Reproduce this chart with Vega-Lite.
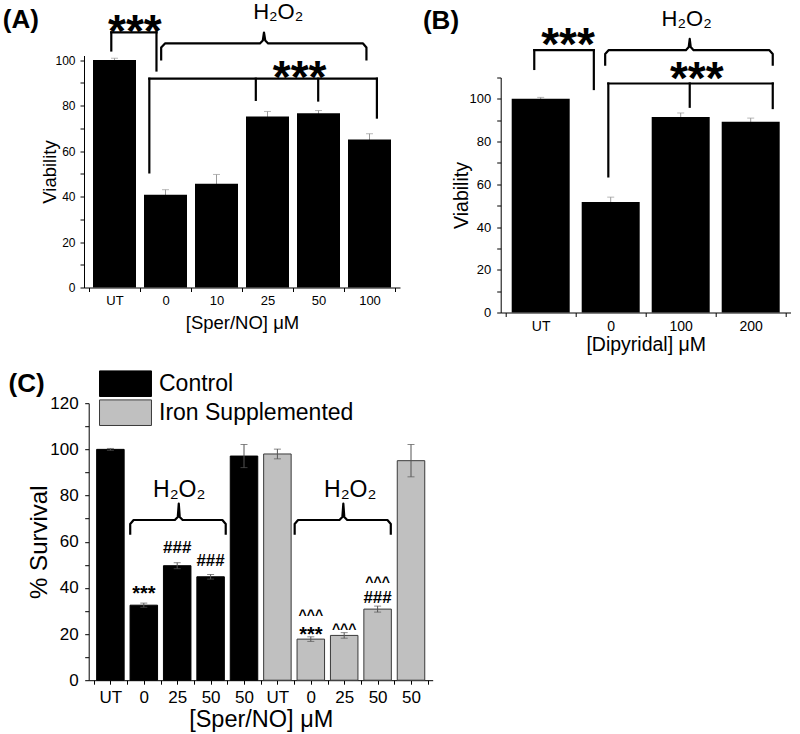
{
  "$schema": "https://vega.github.io/schema/vega-lite/v6.json",
  "background": "white",
  "padding": {"left": 2, "top": 0.5, "right": 0, "bottom": 0},
  "columns": 2,
  "bounds": "flush",
  "align": {"row": "each", "column": "each"},
  "spacing": {"row": 90.7, "column": 67.7},
  "resolve": {
    "scale": {"fill": "independent", "stroke": "independent", "size": "independent"},
    "legend": {"fill": "independent", "stroke": "independent", "size": "independent"}
  },
  "datasets": {
    "A_bars": [
      {"cond": "UT", "pos": 0.5, "viability": 100.0, "err": 0.8},
      {"cond": "0", "pos": 1.5, "viability": 40.8, "err": 2.2},
      {"cond": "10", "pos": 2.5, "viability": 45.6, "err": 4.1},
      {"cond": "25", "pos": 3.5, "viability": 75.2, "err": 2.2},
      {"cond": "50", "pos": 4.5, "viability": 76.6, "err": 1.2},
      {"cond": "100", "pos": 5.5, "viability": 65.1, "err": 2.5}
    ],
    "A_brackets": [
      {"x": 0.437, "x2": 1.323, "y": 112.2, "y2": 112.2},
      {"x": 0.437, "x2": 0.437, "y": 112.2, "y2": 104.2},
      {"x": 1.323, "x2": 1.323, "y": 112.2, "y2": 95.4},
      {"x": 1.183, "x2": 5.645, "y": 91.8, "y2": 91.8},
      {"x": 1.183, "x2": 1.183, "y": 91.8, "y2": 50.6},
      {"x": 3.271, "x2": 3.271, "y": 91.8, "y2": 82.5},
      {"x": 4.494, "x2": 4.494, "y": 91.8, "y2": 82.2},
      {"x": 5.645, "x2": 5.645, "y": 91.8, "y2": 74.7}
    ],
    "A_brace": [
      {"brace": 1, "ord": 1, "x": 1.415, "y": 99.8},
      {"brace": 1, "ord": 2, "x": 1.415, "y": 105.5},
      {"brace": 1, "ord": 3, "x": 1.49, "y": 107.3},
      {"brace": 1, "ord": 4, "x": 3.351, "y": 107.3},
      {"brace": 1, "ord": 5, "x": 3.408, "y": 108.6},
      {"brace": 1, "ord": 6, "x": 3.431, "y": 112.1},
      {"brace": 1, "ord": 7, "x": 3.456, "y": 108.6},
      {"brace": 1, "ord": 8, "x": 3.513, "y": 107.3},
      {"brace": 1, "ord": 9, "x": 5.373, "y": 107.3},
      {"brace": 1, "ord": 10, "x": 5.44, "y": 105.5},
      {"brace": 1, "ord": 11, "x": 5.44, "y": 99.8}
    ],
    "A_notes": [
      {"role": "panel", "text": "(A)", "x": -1.69, "y": 113.9},
      {"role": "sig", "text": "***", "x": 0.9, "y": 105.9},
      {"role": "sig", "text": "***", "x": 4.13, "y": 85.3},
      {"role": "chem", "text": "H₂O₂", "x": 3.71, "y": 118.1}
    ],
    "B_bars": [
      {"cond": "UT", "pos": 0.5, "viability": 100.0, "err": 0.7},
      {"cond": "0", "pos": 1.5, "viability": 51.7, "err": 2.3},
      {"cond": "100", "pos": 2.5, "viability": 91.5, "err": 1.9},
      {"cond": "200", "pos": 3.5, "viability": 89.3, "err": 1.7}
    ],
    "B_brackets": [
      {"x": 0.408, "x2": 1.259, "y": 122.8, "y2": 122.8},
      {"x": 0.408, "x2": 0.408, "y": 122.8, "y2": 114.0},
      {"x": 1.259, "x2": 1.259, "y": 122.8, "y2": 104.6},
      {"x": 1.466, "x2": 3.815, "y": 107.2, "y2": 107.2},
      {"x": 1.466, "x2": 1.466, "y": 107.2, "y2": 63.7},
      {"x": 2.629, "x2": 2.629, "y": 107.2, "y2": 96.3},
      {"x": 3.815, "x2": 3.815, "y": 107.2, "y2": 95.7}
    ],
    "B_brace": [
      {"brace": 1, "ord": 1, "x": 1.421, "y": 115.5},
      {"brace": 1, "ord": 2, "x": 1.421, "y": 121.0},
      {"brace": 1, "ord": 3, "x": 1.469, "y": 122.8},
      {"brace": 1, "ord": 4, "x": 2.574, "y": 122.8},
      {"brace": 1, "ord": 5, "x": 2.615, "y": 124.3},
      {"brace": 1, "ord": 6, "x": 2.629, "y": 128.1},
      {"brace": 1, "ord": 7, "x": 2.643, "y": 124.3},
      {"brace": 1, "ord": 8, "x": 2.684, "y": 122.8},
      {"brace": 1, "ord": 9, "x": 3.767, "y": 122.8},
      {"brace": 1, "ord": 10, "x": 3.815, "y": 121.0},
      {"brace": 1, "ord": 11, "x": 3.815, "y": 115.5}
    ],
    "B_notes": [
      {"role": "panel", "text": "(B)", "x": -1.182, "y": 132.7},
      {"role": "sig", "text": "***", "x": 0.89, "y": 118.0},
      {"role": "sig", "text": "***", "x": 2.73, "y": 102.1},
      {"role": "chem", "text": "H₂O₂", "x": 2.585, "y": 134.2}
    ],
    "C_bars": [
      {"group": "Control", "cond": "UT", "h2o2": "no", "pos": 0.5, "survival": 100.0, "err": 0.4},
      {"group": "Control", "cond": "0", "h2o2": "yes", "pos": 1.5, "survival": 32.5, "err": 0.9},
      {"group": "Control", "cond": "25", "h2o2": "yes", "pos": 2.5, "survival": 49.6, "err": 1.3},
      {"group": "Control", "cond": "50", "h2o2": "yes", "pos": 3.5, "survival": 44.8, "err": 1.0},
      {"group": "Control", "cond": "50", "h2o2": "no", "pos": 4.5, "survival": 97.1, "err": 5.0},
      {"group": "Iron Supplemented", "cond": "UT", "h2o2": "no", "pos": 5.5, "survival": 98.0, "err": 2.1},
      {"group": "Iron Supplemented", "cond": "0", "h2o2": "yes", "pos": 6.5, "survival": 17.8, "err": 1.0},
      {"group": "Iron Supplemented", "cond": "25", "h2o2": "yes", "pos": 7.5, "survival": 19.4, "err": 1.2},
      {"group": "Iron Supplemented", "cond": "50", "h2o2": "yes", "pos": 8.5, "survival": 30.8, "err": 1.3},
      {"group": "Iron Supplemented", "cond": "50", "h2o2": "no", "pos": 9.5, "survival": 95.1, "err": 7.0}
    ],
    "C_brace": [
      {"brace": 1, "ord": 1, "x": 1.093, "y": 63.0},
      {"brace": 1, "ord": 2, "x": 1.093, "y": 67.7},
      {"brace": 1, "ord": 3, "x": 1.195, "y": 69.4},
      {"brace": 1, "ord": 4, "x": 2.43, "y": 69.4},
      {"brace": 1, "ord": 5, "x": 2.517, "y": 70.7},
      {"brace": 1, "ord": 6, "x": 2.547, "y": 76.5},
      {"brace": 1, "ord": 7, "x": 2.576, "y": 70.7},
      {"brace": 1, "ord": 8, "x": 2.663, "y": 69.4},
      {"brace": 1, "ord": 9, "x": 3.852, "y": 69.4},
      {"brace": 1, "ord": 10, "x": 3.953, "y": 67.7},
      {"brace": 1, "ord": 11, "x": 3.953, "y": 63.0},
      {"brace": 2, "ord": 1, "x": 6.017, "y": 63.0},
      {"brace": 2, "ord": 2, "x": 6.017, "y": 67.7},
      {"brace": 2, "ord": 3, "x": 6.119, "y": 69.4},
      {"brace": 2, "ord": 4, "x": 7.358, "y": 69.4},
      {"brace": 2, "ord": 5, "x": 7.445, "y": 70.7},
      {"brace": 2, "ord": 6, "x": 7.474, "y": 76.5},
      {"brace": 2, "ord": 7, "x": 7.503, "y": 70.7},
      {"brace": 2, "ord": 8, "x": 7.59, "y": 69.4},
      {"brace": 2, "ord": 9, "x": 8.794, "y": 69.4},
      {"brace": 2, "ord": 10, "x": 8.895, "y": 67.7},
      {"brace": 2, "ord": 11, "x": 8.895, "y": 63.0}
    ],
    "C_notes": [
      {"role": "panel", "text": "(C)", "x": -2.549, "y": 124.8},
      {"role": "chem", "text": "H₂O₂", "x": 2.56, "y": 79.5},
      {"role": "chem", "text": "H₂O₂", "x": 7.68, "y": 79.5},
      {"role": "sig", "text": "***", "x": 1.5, "y": 34.9},
      {"role": "sig", "text": "###", "x": 2.5, "y": 54.9},
      {"role": "sig", "text": "###", "x": 3.5, "y": 49.6},
      {"role": "sig", "text": "^^^", "x": 6.5, "y": 25.9},
      {"role": "sig", "text": "***", "x": 6.5, "y": 16.8},
      {"role": "sig", "text": "^^^", "x": 7.5, "y": 20.2},
      {"role": "sig", "text": "^^^", "x": 8.5, "y": 40.5},
      {"role": "sig", "text": "###", "x": 8.5, "y": 33.3}
    ]
  },
  "concat": [
    {
      "width": 316,
      "height": 232,
      "layer": [
        {
          "data": {"name": "A_bars"},
          "mark": {"type": "errorbar", "thickness": 1, "ticks": {"size": 7, "color": "#9a9a9a"}, "rule": {"color": "#9a9a9a"}},
          "encoding": {
            "x": {"field": "pos", "type": "quantitative",
              "scale": {"domain": [0, 6], "nice": false, "zero": false},
              "axis": {"title": "[Sper/NO] μM", "values": [0, 0.5, 1, 1.5, 2, 2.5, 3, 3.5, 4, 4.5, 5, 5.5, 6], "tickCount": 100,
                "labelExpr": "datum.value == 0.5 ? 'UT' : datum.value == 1.5 ? '0' : datum.value == 2.5 ? '10' : datum.value == 3.5 ? '25' : datum.value == 4.5 ? '50' : datum.value == 5.5 ? '100' : ''",
                "tickOpacity": {"condition": {"test": "datum.value % 1 == 0", "value": 1}, "value": 0},
                "labelFontSize": 13, "labelPadding": 3, "titleFontSize": 18.5, "titlePadding": 6}},
            "y": {"field": "viability", "type": "quantitative", "title": "Viability",
              "scale": {"domain": [0, 102], "nice": false, "zero": false},
              "axis": {"title": "Viability", "values": [0, 10, 20, 30, 40, 50, 60, 70, 80, 90, 100], "tickCount": 100,
                "labelExpr": "datum.value % 20 == 0 ? datum.label : ''",
                "labelFontSize": 12, "labelPadding": 5, "titleFontSize": 18.5, "titlePadding": -5}},
            "yError": {"field": "err"}
          }
        },
        {
          "data": {"name": "A_bars"},
          "mark": {"type": "bar", "width": 43, "color": "#000000"},
          "encoding": {
            "x": {"field": "pos", "type": "quantitative"},
            "y": {"field": "viability", "type": "quantitative", "title": "Viability"}
          }
        },
        {
          "data": {"name": "A_brackets"},
          "mark": {"type": "rule", "strokeWidth": 2.2, "color": "#000000", "strokeCap": "square"},
          "encoding": {
            "x": {"field": "x", "type": "quantitative"},
            "x2": {"field": "x2"},
            "y": {"field": "y", "type": "quantitative"},
            "y2": {"field": "y2"}
          }
        },
        {
          "data": {"name": "A_brace"},
          "mark": {"type": "line", "strokeWidth": 2.2, "color": "#000000", "strokeJoin": "round"},
          "encoding": {
            "x": {"field": "x", "type": "quantitative"},
            "y": {"field": "y", "type": "quantitative"},
            "detail": {"field": "brace"},
            "order": {"field": "ord", "type": "quantitative"}
          }
        },
        {
          "data": {"name": "A_notes"},
          "transform": [{"filter": "datum.role == 'panel'"}],
          "mark": {"type": "text", "font": "Liberation Sans", "fontWeight": "bold", "fontSize": 26, "align": "left", "baseline": "alphabetic", "color": "#000000"},
          "encoding": {"x": {"field": "x", "type": "quantitative"}, "y": {"field": "y", "type": "quantitative"}, "text": {"field": "text"}}
        },
        {
          "data": {"name": "A_notes"},
          "transform": [{"filter": "datum.role == 'sig'"}],
          "mark": {"type": "text", "font": "Liberation Sans", "fontWeight": "bold", "fontSize": 46, "align": "center", "baseline": "alphabetic", "color": "#000000"},
          "encoding": {"x": {"field": "x", "type": "quantitative"}, "y": {"field": "y", "type": "quantitative"}, "text": {"field": "text"}}
        },
        {
          "data": {"name": "A_notes"},
          "transform": [{"filter": "datum.role == 'chem'"}],
          "mark": {"type": "text", "font": "Liberation Sans", "fontSize": 22, "align": "center", "baseline": "alphabetic", "color": "#000000"},
          "encoding": {"x": {"field": "x", "type": "quantitative"}, "y": {"field": "y", "type": "quantitative"}, "text": {"field": "text"}}
        }
      ]
    },
    {
      "width": 290,
      "height": 257,
      "layer": [
        {
          "data": {"name": "B_bars"},
          "mark": {"type": "errorbar", "thickness": 1, "ticks": {"size": 7, "color": "#9a9a9a"}, "rule": {"color": "#9a9a9a"}},
          "encoding": {
            "x": {"field": "pos", "type": "quantitative",
              "scale": {"domain": [0, 4], "nice": false, "zero": false},
              "axis": {"title": "[Dipyridal] μM", "values": [0, 0.5, 1, 1.5, 2, 2.5, 3, 3.5, 4], "tickCount": 100,
                "labelExpr": "datum.value == 0.5 ? 'UT' : datum.value == 1.5 ? '0' : datum.value == 2.5 ? '100' : datum.value == 3.5 ? '200' : ''",
                "tickOpacity": {"condition": {"test": "datum.value % 1 == 0", "value": 1}, "value": 0},
                "labelFontSize": 14, "labelPadding": 3, "titleFontSize": 19.5, "titlePadding": 2}},
            "y": {"field": "viability", "type": "quantitative", "title": "Viability",
              "scale": {"domain": [0, 110], "range": [257, 22], "nice": false, "zero": false},
              "axis": {"title": "Viability", "values": [0, 10, 20, 30, 40, 50, 60, 70, 80, 90, 100, 110], "tickCount": 100,
                "labelExpr": "datum.value % 20 == 0 ? datum.label : ''",
                "labelFontSize": 13, "labelPadding": 6, "titleFontSize": 19.5, "titlePadding": -2}},
            "yError": {"field": "err"}
          }
        },
        {
          "data": {"name": "B_bars"},
          "mark": {"type": "bar", "width": 58, "color": "#000000"},
          "encoding": {
            "x": {"field": "pos", "type": "quantitative"},
            "y": {"field": "viability", "type": "quantitative", "title": "Viability"}
          }
        },
        {
          "data": {"name": "B_brackets"},
          "mark": {"type": "rule", "strokeWidth": 2.2, "color": "#000000", "strokeCap": "square"},
          "encoding": {
            "x": {"field": "x", "type": "quantitative"},
            "x2": {"field": "x2"},
            "y": {"field": "y", "type": "quantitative"},
            "y2": {"field": "y2"}
          }
        },
        {
          "data": {"name": "B_brace"},
          "mark": {"type": "line", "strokeWidth": 2.2, "color": "#000000", "strokeJoin": "round"},
          "encoding": {
            "x": {"field": "x", "type": "quantitative"},
            "y": {"field": "y", "type": "quantitative"},
            "detail": {"field": "brace"},
            "order": {"field": "ord", "type": "quantitative"}
          }
        },
        {
          "data": {"name": "B_notes"},
          "transform": [{"filter": "datum.role == 'panel'"}],
          "mark": {"type": "text", "font": "Liberation Sans", "fontWeight": "bold", "fontSize": 26, "align": "left", "baseline": "alphabetic", "color": "#000000"},
          "encoding": {"x": {"field": "x", "type": "quantitative"}, "y": {"field": "y", "type": "quantitative"}, "text": {"field": "text"}}
        },
        {
          "data": {"name": "B_notes"},
          "transform": [{"filter": "datum.role == 'sig'"}],
          "mark": {"type": "text", "font": "Liberation Sans", "fontWeight": "bold", "fontSize": 46, "align": "center", "baseline": "alphabetic", "color": "#000000"},
          "encoding": {"x": {"field": "x", "type": "quantitative"}, "y": {"field": "y", "type": "quantitative"}, "text": {"field": "text"}}
        },
        {
          "data": {"name": "B_notes"},
          "transform": [{"filter": "datum.role == 'chem'"}],
          "mark": {"type": "text", "font": "Liberation Sans", "fontSize": 22, "align": "center", "baseline": "alphabetic", "color": "#000000"},
          "encoding": {"x": {"field": "x", "type": "quantitative"}, "y": {"field": "y", "type": "quantitative"}, "text": {"field": "text"}}
        }
      ]
    },
    {
      "width": 349,
      "height": 277,
      "resolve": {"legend": {"fill": "shared", "stroke": "shared"}},
      "layer": [
        {
          "data": {"name": "C_bars"},
          "mark": {"type": "bar", "width": 27.5, "strokeWidth": 1},
          "encoding": {
            "x": {"field": "pos", "type": "quantitative",
              "scale": {"domain": [0, 10], "range": [4.7, 348.7], "nice": false, "zero": false},
              "axis": {"title": "[Sper/NO] μM", "values": [0, 0.5, 1, 1.5, 2, 2.5, 3, 3.5, 4, 4.5, 5, 5.5, 6, 6.5, 7, 7.5, 8, 8.5, 9, 9.5, 10], "tickCount": 100,
                "labelExpr": "datum.value == 0.5 || datum.value == 5.5 ? 'UT' : datum.value == 1.5 || datum.value == 6.5 ? '0' : datum.value == 2.5 || datum.value == 7.5 ? '25' : datum.value == 3.5 || datum.value == 4.5 || datum.value == 8.5 || datum.value == 9.5 ? '50' : ''",
                "labelFontSize": 17, "labelPadding": 5.5, "titleFontSize": 23.5, "titlePadding": 2}},
            "y": {"field": "survival", "type": "quantitative", "title": "% Survival",
              "scale": {"domain": [0, 120], "nice": false, "zero": false},
              "axis": {"title": "% Survival", "values": [0, 10, 20, 30, 40, 50, 60, 70, 80, 90, 100, 110, 120], "tickCount": 100,
                "labelExpr": "datum.value % 20 == 0 ? datum.label : ''", "offset": -4.7,
                "labelFontSize": 17, "labelPadding": 6.5, "titleFontSize": 24, "titlePadding": -2}},
            "fill": {"field": "group", "type": "nominal",
              "scale": {"domain": ["Control", "Iron Supplemented"], "range": ["#000000", "#c0c0c0"]},
              "legend": {"orient": "none", "legendX": 28, "legendY": -33, "title": null,
                "symbolType": "M-2.03,-1H2.03V1H-2.03Z", "symbolSize": 655, "symbolStrokeWidth": 1,
                "labelFontSize": 23, "labelFont": "Liberation Sans", "labelColor": "#000000", "labelOffset": 20, "labelLimit": 400,
                "rowPadding": -2.3, "padding": 0}},
            "stroke": {"field": "group", "type": "nominal",
              "scale": {"domain": ["Control", "Iron Supplemented"], "range": ["#000000", "#3a3a3a"]},
              "legend": {"orient": "none", "legendX": 28, "legendY": -33, "title": null,
                "symbolType": "M-2.03,-1H2.03V1H-2.03Z", "symbolSize": 655, "symbolStrokeWidth": 1,
                "labelFontSize": 23, "labelFont": "Liberation Sans", "labelColor": "#000000", "labelOffset": 20, "labelLimit": 400,
                "rowPadding": -2.3, "padding": 0}}
          }
        },
        {
          "data": {"name": "C_bars"},
          "mark": {"type": "errorbar", "thickness": 1, "ticks": {"size": 7, "color": "#555555"}, "rule": {"color": "#555555"}},
          "encoding": {
            "x": {"field": "pos", "type": "quantitative"},
            "y": {"field": "survival", "type": "quantitative", "title": "% Survival"},
            "yError": {"field": "err"}
          }
        },
        {
          "data": {"name": "C_brace"},
          "mark": {"type": "line", "strokeWidth": 2.2, "color": "#000000", "strokeJoin": "round"},
          "encoding": {
            "x": {"field": "x", "type": "quantitative"},
            "y": {"field": "y", "type": "quantitative", "title": "% Survival"},
            "detail": {"field": "brace"},
            "order": {"field": "ord", "type": "quantitative"}
          }
        },
        {
          "data": {"name": "C_notes"},
          "transform": [{"filter": "datum.role == 'panel'"}],
          "mark": {"type": "text", "font": "Liberation Sans", "fontWeight": "bold", "fontSize": 26, "align": "left", "baseline": "alphabetic", "color": "#000000"},
          "encoding": {"x": {"field": "x", "type": "quantitative"}, "y": {"field": "y", "type": "quantitative", "title": "% Survival"}, "text": {"field": "text"}}
        },
        {
          "data": {"name": "C_notes"},
          "transform": [{"filter": "datum.role == 'chem'"}],
          "mark": {"type": "text", "font": "Liberation Sans", "fontSize": 23, "align": "center", "baseline": "alphabetic", "color": "#000000"},
          "encoding": {"x": {"field": "x", "type": "quantitative"}, "y": {"field": "y", "type": "quantitative", "title": "% Survival"}, "text": {"field": "text"}}
        },
        {
          "data": {"name": "C_notes"},
          "transform": [{"filter": "datum.role == 'sig'"}],
          "mark": {"type": "text", "font": "Liberation Sans", "fontWeight": "bold", "align": "center", "baseline": "alphabetic", "color": "#000000"},
          "encoding": {"x": {"field": "x", "type": "quantitative"}, "y": {"field": "y", "type": "quantitative", "title": "% Survival"}, "text": {"field": "text"},
            "size": {"field": "text", "type": "nominal", "scale": {"domain": ["***", "###", "^^^"], "range": [20, 14, 15]}, "legend": null}}
        }
      ]
    }
  ],
  "config": {
    "font": "Liberation Sans",
    "view": {"stroke": null},
    "axis": {"grid": false, "domainColor": "#000000", "tickColor": "#000000", "labelColor": "#000000", "titleColor": "#000000",
      "labelFont": "Liberation Sans", "titleFont": "Liberation Sans", "titleFontWeight": "normal", "tickSize": 4,
      "domainWidth": 1, "tickWidth": 1, "labelOverlap": false, "labelFlush": false, "labelBound": false},
    "text": {"font": "Liberation Sans", "color": "#000000"}
  }
}
